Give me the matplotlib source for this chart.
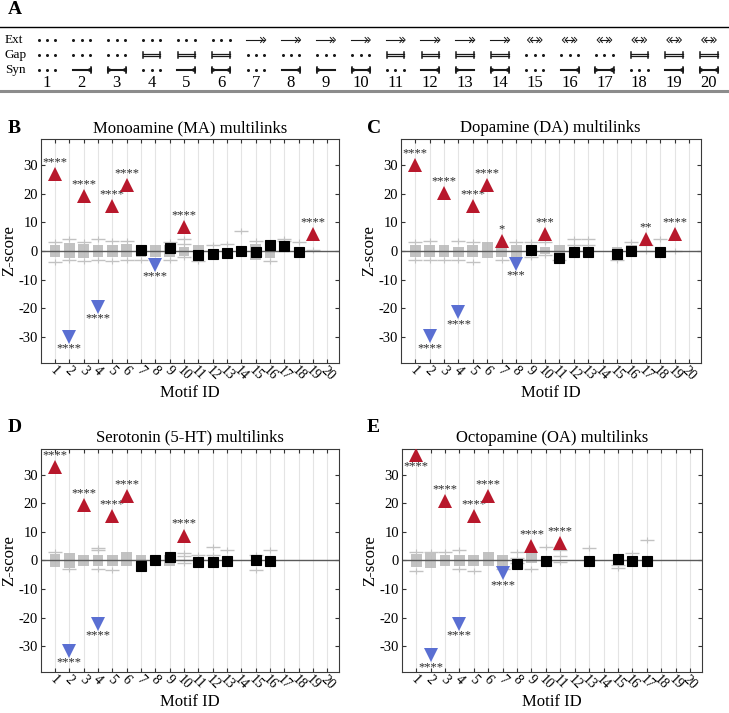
import numpy as np
import matplotlib
matplotlib.use("Agg")
import matplotlib.pyplot as plt

plt.rcParams['font.family'] = ['Liberation Serif', 'DejaVu Serif']
plt.rcParams['axes.unicode_minus'] = False

motifs = np.arange(1, 21)

# panel A: motif composition
ext_type = ['none'] * 6 + ['uni'] * 8 + ['bi'] * 6
gap_type = [0, 0, 0, 1, 1, 1, 0, 0, 0, 0, 1, 1, 1, 1, 0, 0, 0, 1, 1, 1]
syn_type = ['none', 'right', 'both', 'none', 'right', 'both',
            'none', 'right', 'left', 'both', 'none', 'right', 'left', 'both',
            'none', 'right', 'both', 'none', 'right', 'both']
row_names = ['Ext', 'Gap', 'Syn']

nan = np.nan
titles = ['Monoamine (MA) multilinks', 'Dopamine (DA) multilinks',
          'Serotonin (5-HT) multilinks', 'Octopamine (OA) multilinks']
letters = ['B', 'C', 'D', 'E']

# observed z-scores
z_ma = [26.7, -29.9, 19.0, -19.4, 15.7, 23.0, 0.3, -4.8, 1.0, 8.5,
        -1.5, -1.0, -0.6, -0.1, -0.3, 2.0, 1.7, -0.5, 5.9, nan]
z_da = [30.0, -29.7, 20.3, -21.3, 15.7, 22.9, 3.5, -4.5, 0.3, 5.8,
        -2.3, -0.5, -0.5, nan, -1.0, -0.1, 4.2, -0.5, 5.9, nan]
z_5ht = [32.8, -31.5, 19.3, -22.1, 15.5, 22.6, -2.0, 0.1, 1.3, 8.7,
         -0.5, -0.5, -0.3, nan, 0.3, -0.3, nan, nan, nan, nan]
z_oa = [36.9, -33.2, 20.8, -22.1, 15.5, 22.5, -4.5, -1.1, 4.9, -0.2,
        6.1, nan, -0.2, nan, 0.5, -0.3, -0.1, nan, nan, nan]

# significance stars
sig_ma = ['****'] * 6 + ['', '****', '', '****'] + [''] * 8 + ['****', '']
sig_da = ['****'] * 6 + ['*', '***', '', '***'] + [''] * 6 + ['**', '', '****', '']
sig_5ht = ['****'] * 6 + ['', '', '', '****'] + [''] * 10
sig_oa = ['****'] * 7 + ['', '****', '', '****'] + [''] * 9

# null-model spread (box low/high) and scattered null values
lo_ma = [-2.2, -2.3, -2.3, -2.0, -2.2, -2.0, -2.0, -2.2, -2.0, -1.8,
         -2.0, nan, nan, nan, -3.0, -2.5, nan, nan, nan, nan]
hi_ma = [2.2, 2.8, 2.3, 2.0, 2.2, 2.5, 2.0, 2.0, 2.0, 1.5,
         2.0, nan, nan, nan, 2.5, 2.0, nan, nan, nan, nan]
out_ma = [[-3.8, 3.0], [-3.0, 4.0], [-3.5, 3.0], [-3.0, 4.2], [-3.6, 3.5],
          [-3.0, 3.5], [-3.0], [], [-3.0, 3.0], [-2.0, 2.5, 4.2],
          [-3.5], [2.0], [2.3], [7.0], [3.5], [-3.5], [3.5, 4.3], [3.0], [0.5], []]

lo_da = [-2.0, -2.0, -2.0, -2.0, -2.0, -2.5, -2.0, -2.0, nan, -1.0,
         -2.0, nan, nan, nan, -2.0, -2.0, nan, nan, nan, nan]
hi_da = [2.0, 2.0, 2.0, 1.5, 2.0, 3.0, 2.0, 2.0, nan, 1.5,
         2.0, nan, nan, nan, 1.5, 2.0, nan, nan, nan, nan]
out_da = [[-3.3, 3.0], [-3.0, 3.5], [-3.0], [-3.0, 3.5], [-3.8, 3.0],
          [], [-3.0], [3.0], [-2.0, 3.0], [-1.5, 3.0],
          [-3.0], [2.0, 4.0], [2.0, 4.3], [], [-3.0], [3.0], [0.0, 2.0], [4.2], [0.0], []]

lo_5ht = [-2.2, -2.5, -2.0, -2.0, -2.0, -2.0, -2.0, -2.0, -2.0, nan,
          nan, nan, nan, nan, nan, nan, nan, nan, nan, nan]
hi_5ht = [2.2, 2.5, 2.0, 2.0, 2.0, 3.0, 2.0, 2.0, 2.0, nan,
          nan, nan, nan, nan, nan, nan, nan, nan, nan, nan]
out_5ht = [[3.0], [-3.0], [], [-3.0, 3.5, 4.5], [-3.5],
           [], [], [], [], [-1.0, 0.0, 1.5, 2.5],
           [2.0], [2.0, 4.8], [3.5], [], [-3.5, 2.0], [3.5], [], [], [], []]

lo_oa = [-2.2, -2.5, -2.0, -2.0, -2.0, -2.0, -2.0, nan, -1.0, nan,
         nan, nan, nan, nan, nan, nan, nan, nan, nan, nan]
hi_oa = [2.2, 2.5, 2.0, 2.0, 2.0, 3.0, 2.0, nan, 3.0, nan,
         nan, nan, nan, nan, nan, nan, nan, nan, nan, nan]
out_oa = [[-3.8, 3.0], [3.0], [3.0], [-3.0, 3.5], [-3.8],
          [], [-3.0], [-1.0, 1.0, 3.0], [-3.0], [4.8],
          [-0.5, 1.5, 3.5], [], [4.3], [], [-2.5, -1.5], [2.5], [7.0], [], [], []]

RED = '#b8182c'
BLUE = '#5a6fd2'


def draw_schematic(ax):
    ax.set_xlim(-0.349, 20.575)
    ax.set_ylim(3.667, -1.2)
    ax.axis('off')
    ax.axhline(-0.867, color='black', lw=1.0)
    ax.axhline(3.4, color='#8c8c8c', lw=2.2)
    for i, name in enumerate(row_names):
        ax.text(-0.21, i, name, fontsize=9.5, ha='left', va='center')
    c = '#1a1a1a'
    dots = np.array([-0.24, 0, 0.24])
    for m in motifs:
        k = m - 1
        # Ext row
        if ext_type[k] == 'none':
            ax.plot(m + dots, [0, 0, 0], 'o', color=c, ms=2.2, mew=0)
        elif ext_type[k] == 'uni':
            ax.plot([m - 0.28, m + 0.22], [0, 0], color=c, lw=0.8)
            for cx in [m + 0.2, m + 0.28]:
                ax.plot([cx - 0.07, cx, cx - 0.07], [-0.17, 0, 0.17], color=c, lw=0.7)
        else:
            ax.plot([m - 0.12, m + 0.12], [0, 0], color=c, lw=0.8)
            for cx in [0.13, 0.21]:
                ax.plot([m + cx - 0.07, m + cx, m + cx - 0.07], [-0.17, 0, 0.17], color=c, lw=0.7)
                ax.plot([m - cx + 0.07, m - cx, m - cx + 0.07], [-0.17, 0, 0.17], color=c, lw=0.7)
        # Gap row
        if gap_type[k] == 0:
            ax.plot(m + dots, [1, 1, 1], 'o', color=c, ms=2.2, mew=0)
        else:
            for dy in [-0.09, 0.09]:
                ax.plot([m - 0.25, m + 0.25], [1 + dy, 1 + dy], color=c, lw=0.9)
            for dx in [-0.25, 0.25]:
                ax.plot([m + dx, m + dx], [0.82, 1.18], color=c, lw=1.1)
        # Syn row
        s = syn_type[k]
        if s == 'none':
            ax.plot(m + dots, [2, 2, 2], 'o', color=c, ms=2.2, mew=0)
        else:
            ax.plot([m - 0.26, m + 0.26], [2, 2], color=c, lw=1.5)
            if s in ('right', 'both'):
                ax.plot([m + 0.2], [2], '<', color=c, ms=5, mew=0)
                ax.plot([m + 0.26, m + 0.26], [1.82, 2.18], color=c, lw=1.1)
            if s in ('left', 'both'):
                ax.plot([m - 0.2], [2], '>', color=c, ms=5, mew=0)
                ax.plot([m - 0.26, m - 0.26], [1.82, 2.18], color=c, lw=1.1)
        ax.text(m, 2.9, str(m), fontsize=12, ha='center', va='center')


def draw_panel(ax, title, z, sig, lo, hi, out):
    z = np.array(z, dtype=float)
    sig = np.array(sig)
    lo = np.array(lo, dtype=float)
    hi = np.array(hi, dtype=float)

    ax.bar(motifs, hi - lo, bottom=lo, width=0.75, color='#b8b8b8', alpha=0.85, zorder=2)
    for m, vals in zip(motifs, out):
        ax.plot([m] * len(vals), vals, '_', color='#c2c2c2', ms=10, mew=1.0, zorder=2)
        ax.plot([m] * len(vals), vals, '|', color='#c2c2c2', ms=4, mew=0.8, zorder=2)
    ax.axhline(0, color='#5a5a5a', lw=1.0, zorder=2.5)

    up = (sig != '') & (z > 0)
    down = (sig != '') & (z < 0)
    plain = (sig == '') & ~np.isnan(z)
    ax.plot(motifs[up], z[up], '^', color=RED, ms=9.5, mew=0, zorder=4)
    ax.plot(motifs[down], z[down], 'v', color=BLUE, ms=9.5, mew=0, zorder=4)
    ax.plot(motifs[plain], z[plain], 's', color='black', ms=7, mew=0.8,
            mec='black', zorder=4)

    for m, v, s in zip(motifs, z, sig):
        if s == '':
            continue
        if v > 0 and v < 33:
            ax.text(m, v + 2.0, s, fontsize=9, color='#2a2a2a', ha='center', va='bottom')
        else:
            ax.text(m, v - 2.0, s, fontsize=9, color='#2a2a2a', ha='center', va='top')

    ax.set_xlim(0, 20.8)
    ax.set_ylim(-39, 39)
    ax.set_yticks(np.arange(-30, 31, 10))
    ax.set_xticks(motifs)
    ax.set_xticklabels([str(m) for m in motifs], rotation=-45, ha='center', fontsize=10)
    ax.tick_params(axis='x', pad=1)
    ax.tick_params(axis='y', labelsize=10.5, pad=2)
    ax.tick_params(direction='in', top=True, right=True, length=3, color='#333333')
    ax.xaxis.grid(True, color='#e4e4e4', lw=0.8, zorder=0)
    ax.set_axisbelow(True)
    for sp in ax.spines.values():
        sp.set_color('#3a3a3a')
    ax.set_title(title, fontsize=12, pad=5)
    ax.set_xlabel('Motif ID', fontsize=12, labelpad=1)
    ax.set_ylabel('Z-score', fontsize=12, labelpad=1)


def main():
    fig = plt.figure(figsize=(7.29, 7.13), dpi=100)

    ax_a = fig.add_axes([0, 1 - 95 / 713, 1, 73 / 713])
    draw_schematic(ax_a)
    fig.text(0.011, 0.987, 'A', fontsize=14, fontweight='bold', va='center')

    positions = [[0.0558, 0.491, 0.409, 0.314], [0.5497, 0.491, 0.4115, 0.314],
                 [0.0558, 0.0575, 0.409, 0.313], [0.551, 0.0575, 0.4115, 0.313]]
    letter_pos = [(0.011, 0.820), (0.503, 0.820), (0.011, 0.400), (0.503, 0.400)]
    data = [(z_ma, sig_ma, lo_ma, hi_ma, out_ma),
            (z_da, sig_da, lo_da, hi_da, out_da),
            (z_5ht, sig_5ht, lo_5ht, hi_5ht, out_5ht),
            (z_oa, sig_oa, lo_oa, hi_oa, out_oa)]
    for pos, lp, let, title, d in zip(positions, letter_pos, letters, titles, data):
        ax = fig.add_axes(pos)
        draw_panel(ax, title, *d)
        fig.text(lp[0], lp[1], let, fontsize=14, fontweight='bold', va='center')

    fig.savefig('out.png', dpi=100)


if __name__ == "__main__":
    main()
